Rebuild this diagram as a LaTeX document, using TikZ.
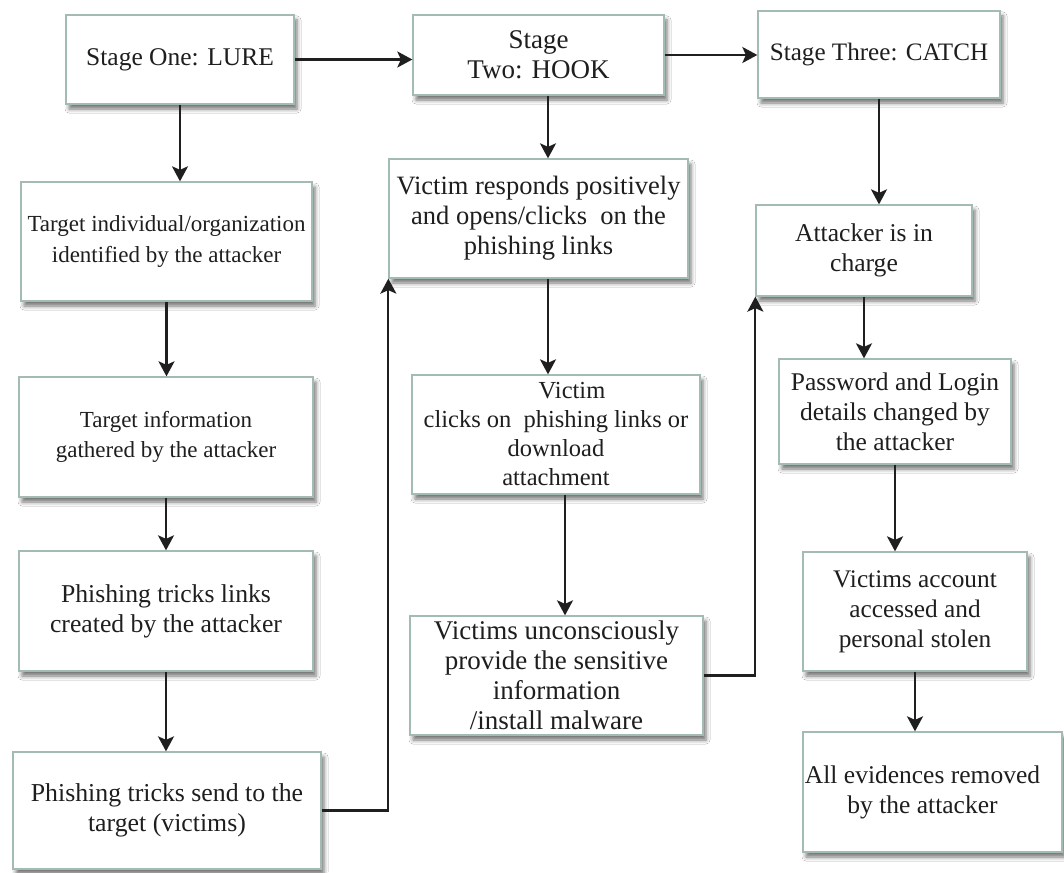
\documentclass[tikz,border=0pt]{standalone}
\usepackage{fontspec}
\setmainfont{Liberation Serif}
\usetikzlibrary{arrows.meta,shadows.blur,calc}
\definecolor{boxline}{HTML}{A3BAB5}
\definecolor{txt}{HTML}{1E1E1E}
\newcommand{\fsz}[1]{\fontsize{#1}{30}\selectfont}
\begin{document}
\begin{tikzpicture}[x=1pt,y=-1pt,
  box/.style={draw=boxline, line width=1.3pt, fill=white, inner sep=0pt, align=center, text=txt,
    blur shadow={shadow xshift=3pt, shadow yshift=-5pt, shadow blur radius=4pt, shadow opacity=55}},
  arr/.style={draw=black!88, line width=2.1pt, -{Stealth[length=15pt,width=16pt,inset=3.5pt]}}]
\useasboundingbox[fill=white] (0,0) rectangle (1064,872);

% column 1
\node[box, minimum width=228pt, minimum height=89pt, font={\fsz{25.5}}] (lure) at (180,59.5) {Stage One: LURE};
\node[box, minimum width=291pt, minimum height=119pt, font={\fsz{23}}] (t1) at (166.5,241.5) {Target individual/organization\\identified by the attacker};
\node[box, minimum width=294pt, minimum height=120pt, font={\fsz{23}}] (t2) at (166,437) {Target information\\gathered by the attacker};
\node[box, minimum width=294pt, minimum height=120pt, font={\fsz{25.7}}] (t3) at (166,611) {Phishing tricks links\\created by the attacker};
\node[box, minimum width=308pt, minimum height=117pt, font={\fsz{25.8}}] (t4) at (167,810.5) {Phishing tricks send to the\\target (victims)};

% column 2
\node[box, minimum width=251pt, minimum height=80pt, font={\fsz{27}}] (hook) at (538.5,55) {Stage\\Two: HOOK};
\node[box, minimum width=299pt, minimum height=119pt, font={\fsz{26.5}}] (h1) at (538.5,218.5) {Victim responds positively\\and opens/clicks\ \ on the\\phishing links};
\node[box, minimum width=288pt, minimum height=119pt, font={\fontsize{24.5}{29}\selectfont}] (h2) at (556,434.5) {\hspace*{32pt}Victim\\clicks on\ \ phishing links or\\download\\attachment};
\node[box, minimum width=293pt, minimum height=119pt, font={\fsz{27}}] (h3) at (556.5,675.5) {Victims unconsciously\\provide the sensitive\\information\\/install malware};

% column 3
\node[box, minimum width=242pt, minimum height=87pt, font={\fsz{25.1}}] (catch) at (879,54.5) {Stage Three: CATCH};
\node[box, minimum width=216pt, minimum height=91pt, font={\fsz{25.6}}] (c1) at (864,250.5) {Attacker is in\\charge};
\node[box, minimum width=232pt, minimum height=105pt, font={\fsz{25.5}}] (c2) at (895,411.5) {Password and Login\\details changed by\\the attacker};
\node[box, minimum width=224pt, minimum height=119pt, font={\fsz{25.3}}] (c3) at (915,611.5) {Victims account\\accessed and\\personal stolen};
\node[box, minimum width=259pt, minimum height=120pt, font={\fsz{25.5}}] (c4) at (932.5,792) {All evidences removed\hspace*{20pt}\\by the attacker\hspace*{20pt}};

% connectors
\coordinate (hx) at (548,0);
\coordinate (hy) at (565,0);
\draw[arr] (lure.east) -- (lure.east -| hook.west);
\draw[arr] (hook.east) -- (hook.east -| catch.west);
\draw[arr] (lure.south) -- (lure.south |- t1.north);
\draw[arr] (t1.south) -- (t1.south |- t2.north);
\draw[arr] (t2.south) -- (t2.south |- t3.north);
\draw[arr] (t3.south) -- (t3.south |- t4.north);
\draw[arr] (t4.east) -| (h1.south west);
\draw[arr] (hook.south -| hx) -- (h1.north -| hx);
\draw[arr] (h1.south -| hx) -- (h2.north -| hx);
\draw[arr] (h2.south -| hy) -- (h3.north -| hy);
\draw[arr] (h3.east) -| (c1.south west);
\draw[arr] (catch.south) -- (catch.south |- c1.north);
\draw[arr] (c1.south) -- (c1.south |- c2.north);
\draw[arr] (c2.south) -- (c2.south |- c3.north);
\draw[arr] (c3.south) -- (c3.south |- c4.north);
\end{tikzpicture}
\end{document}
